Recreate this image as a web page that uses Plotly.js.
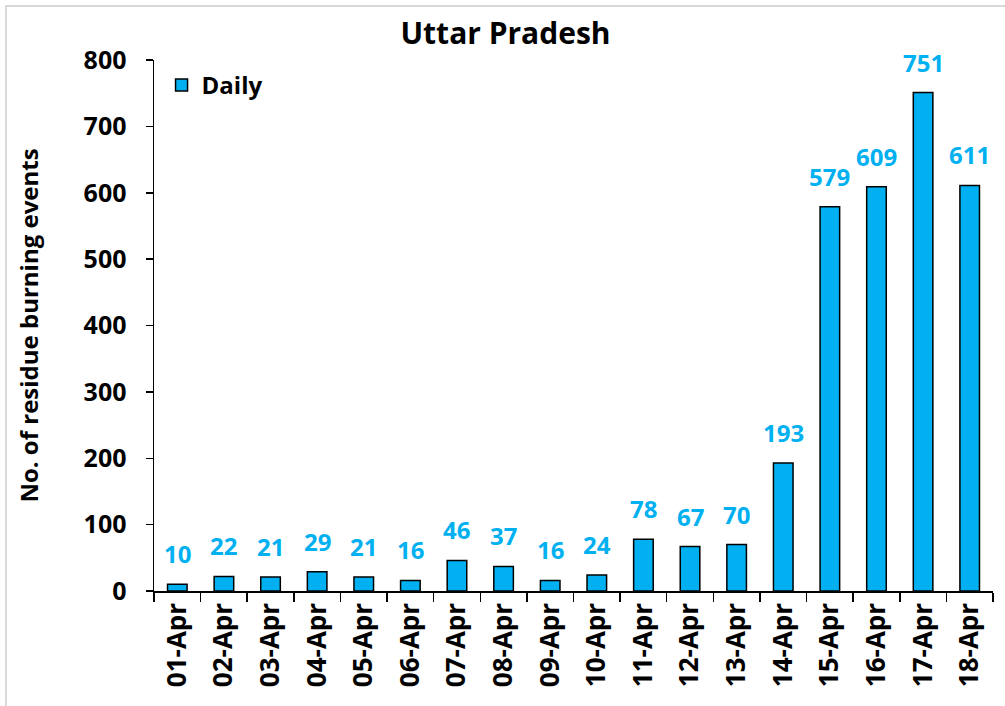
<!DOCTYPE html>
<html>
<head>
<meta charset="utf-8">
<script src="https://cdn.plot.ly/plotly-3.0.1.min.js"></script>
<style>
html,body{margin:0;padding:0;background:#fff;}
#frame{position:absolute;left:5px;top:5px;width:1100px;height:800px;border-left:2px solid #d9d9d9;border-top:2px solid #d9d9d9;}
#chart{position:absolute;left:0;top:0;width:1005px;height:706px;}
</style>
</head>
<body>
<div id="frame"></div>
<div id="chart"></div>
<script>
const categories = ["01-Apr","02-Apr","03-Apr","04-Apr","05-Apr","06-Apr","07-Apr","08-Apr","09-Apr","10-Apr","11-Apr","12-Apr","13-Apr","14-Apr","15-Apr","16-Apr","17-Apr","18-Apr"];
const dailyValues = [10,22,21,29,21,16,46,37,16,24,78,67,70,193,579,609,751,611];
const yTicks = [0,100,200,300,400,500,600,700,800];

const FONT = "Open Sans, Noto Sans, sans-serif";
const BLUE = "#00B0F0";

const trace = {
  type: "bar",
  x: categories,
  y: dailyValues,
  name: "Daily",
  marker: {color: BLUE, line: {color: "#000", width: 1.5}},
  hoverinfo: "x+y"
};

const annotations = categories.map((c, i) => ({
  x: c, y: dailyValues[i], xref: "x", yref: "y",
  text: String(dailyValues[i]),
  showarrow: false, yanchor: "bottom", yshift: 12,
  font: {family: FONT, size: 24, color: BLUE, weight: 700}
}));

const layout = {
  width: 1005, height: 706,
  paper_bgcolor: "rgba(0,0,0,0)",
  plot_bgcolor: "rgba(0,0,0,0)",
  margin: {l: 154, r: 12, t: 60, b: 115},
  bargap: 0.58,
  showlegend: true,
  legend: {x: 0.009, y: 0.952, xanchor: "left", yanchor: "middle",
    font: {family: FONT, size: 24, color: "#000", weight: 700},
    bgcolor: "rgba(0,0,0,0)", itemwidth: 30},
  title: {text: "Uttar Pradesh", x: 0.503, xref: "container", xanchor: "center",
    y: 0.953, yref: "container", yanchor: "middle",
    font: {family: FONT, size: 30, color: "#000", weight: 700}},
  xaxis: {
    type: "category",
    tickangle: -90,
    tickson: "boundaries",
    ticks: "outside", ticklen: 9, tickwidth: 1.5, tickcolor: "#000",
    showline: true, linecolor: "#000", linewidth: 1.5,
    showgrid: false, zeroline: false,
    tickfont: {family: FONT, size: 26, color: "#000", weight: 700}
  },
  yaxis: {
    range: [0, 800],
    tickvals: yTicks,
    ticktext: yTicks.map(String),
    ticks: "outside", ticklen: 7, tickwidth: 1.5, tickcolor: "#000",
    ticklabelstandoff: 14,
    showline: true, linecolor: "#000", linewidth: 1.5,
    showgrid: false, zeroline: false,
    tickfont: {family: FONT, size: 25, color: "#000", weight: 700},
    title: {text: "No. of residue burning events", standoff: 38,
      font: {family: FONT, size: 24, color: "#000", weight: 700}}
  },
  annotations: annotations
};

Plotly.newPlot("chart", [trace], layout, {displayModeBar: false, staticPlot: true});
</script>
</body>
</html>
